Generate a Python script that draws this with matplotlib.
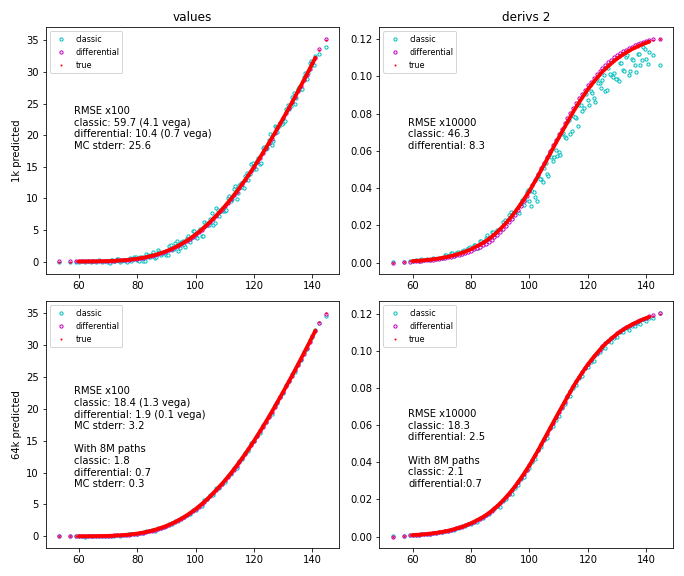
import matplotlib
matplotlib.use("Agg")
import matplotlib.pyplot as plt

# spot of each test point (x axis, shared by all panels)
spot = [53.2, 57.1, 59.0,
        60, 61, 62, 63, 64, 65, 66, 67, 68, 69,
        70, 71, 72, 73, 74, 75, 76, 77, 78, 79,
        80, 81, 82, 83, 84, 85, 86, 87, 88, 89,
        90, 91, 92, 93, 94, 95, 96, 97, 98, 99,
        100, 101, 102, 103, 104, 105, 106, 107, 108, 109,
        110, 111, 112, 113, 114, 115, 116, 117, 118, 119,
        120, 121, 122, 123, 124, 125, 126, 127, 128, 129,
        130, 131, 132, 133, 134, 135, 136, 137, 138, 139,
        140, 141, 142.4, 144.6]

# more classic 1k predictions (top row)
spot_extra = [70.5, 71.5, 72.5, 73.5, 74.5, 75.5, 76.5, 77.5, 78.5, 79.5,
              80.5, 81.5, 82.5, 83.5, 84.5, 85.5, 86.5, 87.5, 88.5, 89.5,
              90.5, 91.5, 92.5, 93.5, 94.5, 95.5, 96.5, 97.5, 98.5, 99.5,
              100.5, 101.5, 102.5, 103.5, 104.5, 105.5, 106.5, 107.5, 108.5, 109.5,
              110.5, 111.5, 112.5, 113.5, 114.5, 115.5, 116.5, 117.5, 118.5, 119.5,
              120.5, 121.5, 122.5, 123.5, 124.5, 125.5, 126.5, 127.5, 128.5, 129.5,
              130.5, 131.5, 132.5, 133.5, 134.5, 135.5, 136.5, 137.5, 138.5, 139.5,
              140.5]

# --- values ---
true_value = [0.00, 0.00, 0.01,
              0.01, 0.01, 0.01, 0.02, 0.02, 0.02, 0.03, 0.04, 0.05, 0.06,
              0.07, 0.09, 0.11, 0.14, 0.16, 0.19, 0.23, 0.28, 0.32, 0.38,
              0.44, 0.52, 0.60, 0.69, 0.79, 0.90, 1.03, 1.17, 1.32, 1.48,
              1.65, 1.84, 2.04, 2.26, 2.50, 2.76, 3.03, 3.32, 3.62, 3.95,
              4.29, 4.66, 5.04, 5.44, 5.86, 6.30, 6.77, 7.25, 7.74, 8.24,
              8.76, 9.31, 9.87, 10.46, 11.06, 11.68, 12.31, 12.96, 13.62, 14.30,
              15.00, 15.72, 16.45, 17.19, 17.94, 18.70, 19.48, 20.27, 21.07, 21.88,
              22.69, 23.52, 24.36, 25.20, 26.06, 26.93, 27.80, 28.68, 29.57, 30.46,
              31.36, 32.27, 33.55, 35.10]

classic_1k_value = [-0.10, -0.08, -0.05,
                    -0.04, 0.04, -0.12, 0.13, 0.00, 0.08, -0.09, 0.19, -0.03, 0.08,
                    -0.14, 0.27, 0.05, 0.38, -0.14, 0.28, 0.11, 0.43, 0.14, 0.65,
                    0.26, 0.64, 0.06, 1.11, 0.73, 1.14, 0.55, 1.77, 1.02, 1.54,
                    1.02, 2.38, 1.86, 2.98, 1.60, 3.03, 2.67, 3.77, 3.08, 4.76,
                    3.93, 4.90, 3.96, 6.28, 5.74, 6.78, 5.81, 8.45, 7.14, 8.36,
                    7.92, 10.03, 9.63, 11.42, 9.86, 12.04, 11.83, 13.56, 12.90, 15.38,
                    14.64, 15.96, 15.37, 18.03, 17.82, 19.18, 18.52, 21.47, 20.47, 22.00,
                    21.92, 24.18, 24.14, 26.08, 24.96, 27.26, 27.36, 29.23, 28.91, 31.45,
                    31.03, 32.49, 32.80, 33.90]

classic_1k_value_extra = [-0.16, 0.31, 0.07, 0.45, 0.03, 0.30, -0.02, 0.48, 0.32, 0.65,
                          0.12, 0.68, 0.05, 0.98, 0.67, 1.51, 0.68, 1.55, 1.40, 1.33,
                          1.03, 2.57, 1.97, 3.28, 2.18, 3.17, 2.37, 4.01, 3.70, 4.84,
                          3.76, 5.09, 4.04, 6.13, 5.72, 7.62, 6.17, 8.10, 7.99, 8.02,
                          8.08, 10.43, 9.93, 11.96, 10.77, 12.36, 11.56, 14.01, 13.84, 15.61,
                          14.64, 16.33, 15.62, 18.05, 17.96, 20.17, 19.04, 21.27, 21.48, 21.81,
                          22.23, 24.71, 24.56, 26.73, 25.95, 27.70, 27.25, 29.79, 29.91, 31.79,
                          31.16]

diff_1k_value = [0.10, 0.06, 0.08,
                 0.05, 0.04, 0.05, 0.05, 0.06, 0.06, 0.07, 0.08, 0.09, 0.10,
                 0.11, 0.13, 0.15, 0.17, 0.19, 0.22, 0.26, 0.30, 0.34, 0.40,
                 0.46, 0.53, 0.61, 0.70, 0.80, 0.91, 1.04, 1.17, 1.32, 1.48,
                 1.65, 1.83, 2.03, 2.25, 2.49, 2.75, 3.02, 3.31, 3.62, 3.95,
                 4.31, 4.66, 5.02, 5.46, 5.85, 6.32, 6.75, 7.25, 7.76, 8.22,
                 8.78, 9.30, 9.85, 10.48, 11.04, 11.70, 12.29, 12.96, 13.64, 14.28,
                 15.02, 15.70, 16.45, 17.22, 17.92, 18.72, 19.46, 20.27, 21.10, 21.86,
                 22.71, 23.50, 24.36, 25.23, 26.04, 26.95, 27.78, 28.68, 29.60, 30.44,
                 31.38, 32.25, 33.57, 35.30]

classic_64k_value = [0.00, 0.00, 0.01,
                     -0.01, 0.02, -0.03, 0.06, 0.02, 0.04, -0.01, 0.09, 0.03, 0.07,
                     0.04, 0.12, 0.10, 0.18, 0.11, 0.21, 0.21, 0.31, 0.29, 0.43,
                     0.40, 0.55, 0.47, 0.80, 0.78, 0.96, 0.91, 1.32, 1.25, 1.50,
                     1.55, 1.93, 2.01, 2.38, 2.35, 2.81, 2.97, 3.40, 3.53, 4.09,
                     4.20, 4.72, 4.77, 5.65, 5.83, 6.42, 6.53, 7.55, 7.59, 8.27,
                     8.55, 9.49, 9.81, 10.70, 10.76, 11.77, 12.19, 13.11, 13.44, 14.57,
                     14.91, 15.78, 16.18, 17.40, 17.91, 18.82, 19.24, 20.57, 20.92, 21.91,
                     22.48, 23.70, 24.30, 25.44, 25.76, 27.02, 27.68, 28.83, 29.39, 30.73,
                     31.27, 32.33, 33.40, 34.60]

diff_64k_value = [0.05, 0.03, 0.04,
                  0.03, 0.03, 0.03, 0.04, 0.04, 0.04, 0.05, 0.06, 0.07, 0.08,
                  0.09, 0.11, 0.13, 0.15, 0.17, 0.20, 0.24, 0.28, 0.33, 0.38,
                  0.44, 0.52, 0.60, 0.69, 0.79, 0.90, 1.03, 1.17, 1.32, 1.48,
                  1.65, 1.84, 2.04, 2.26, 2.50, 2.76, 3.03, 3.32, 3.62, 3.95,
                  4.29, 4.65, 5.04, 5.45, 5.86, 6.29, 6.77, 7.26, 7.74, 8.23,
                  8.76, 9.32, 9.87, 10.45, 11.06, 11.69, 12.31, 12.95, 13.62, 14.31,
                  15.00, 15.71, 16.45, 17.20, 17.94, 18.69, 19.48, 20.28, 21.07, 21.87,
                  22.69, 23.53, 24.36, 25.19, 26.06, 26.94, 27.80, 28.67, 29.57, 30.47,
                  31.36, 32.26, 33.45, 34.90]

# --- derivs 2 ---
true_deriv = [0.0000, 0.0003, 0.0006,
              .0008, .0009, .0010, .0011, .0012, .0014, .0016, .0018, .0020, .0022,
              .0025, .0028, .0031, .0035, .0039, .0043, .0048, .0053, .0059, .0065,
              .0072, .0080, .0088, .0096, .0105, .0115, .0126, .0138, .0151, .0165,
              .0180, .0196, .0213, .0231, .0250, .0270, .0292, .0314, .0337, .0361,
              .0385, .0412, .0439, .0467, .0496, .0525, .0554, .0583, .0612, .0641,
              .0670, .0698, .0726, .0754, .0782, .0810, .0835, .0860, .0884, .0907,
              .0930, .0950, .0970, .0989, .1007, .1025, .1040, .1055, .1069, .1082,
              .1095, .1106, .1117, .1127, .1136, .1145, .1153, .1160, .1167, .1174,
              .1180, .1186, .1193, .1203]

classic_1k_deriv = [.0001, .0004, .0008,
                    .0010, .0013, .0008, .0018, .0015, .0019, .0015, .0026, .0021, .0025,
                    .0024, .0040, .0035, .0049, .0035, .0052, .0050, .0064, .0059, .0080,
                    .0074, .0092, .0078, .0118, .0111, .0131, .0118, .0166, .0149, .0175,
                    .0174, .0216, .0217, .0255, .0238, .0269, .0270, .0319, .0309, .0378,
                    .0330, .0382, .0354, .0462, .0451, .0505, .0474, .0593, .0547, .0606,
                    .0595, .0688, .0676, .0754, .0692, .0785, .0775, .0845, .0814, .0912,
                    .0875, .0920, .0885, .0984, .0962, .0979, .0922, .1045, .1009, .1018,
                    .0983, .1072, .1035, .1105, .1006, .1093, .1059, .1120, .1061, .1158,
                    .1092, .1128, .1113, .1060]

classic_1k_deriv_extra = [.0025, .0043, .0037, .0053, .0042, .0055, .0048, .0068, .0067, .0083,
                          .0072, .0096, .0080, .0117, .0112, .0147, .0126, .0163, .0166, .0173,
                          .0180, .0227, .0226, .0269, .0258, .0280, .0266, .0334, .0336, .0387,
                          .0303, .0378, .0333, .0446, .0433, .0534, .0467, .0568, .0567, .0572,
                          .0576, .0694, .0668, .0768, .0706, .0781, .0734, .0848, .0830, .0907,
                          .0844, .0912, .0860, .0962, .0938, .1007, .0924, .1012, .0996, .0985,
                          .0973, .1074, .1030, .1112, .1031, .1087, .1023, .1120, .1085, .1145,
                          .1067]

diff_1k_deriv = [.0000, .0002, .0005,
                 .0007, .0008, .0009, .0010, .0011, .0013, .0014, .0016, .0018, .0020,
                 .0022, .0025, .0028, .0031, .0035, .0039, .0043, .0048, .0053, .0058,
                 .0064, .0071, .0078, .0085, .0093, .0102, .0112, .0123, .0135, .0149,
                 .0163, .0179, .0196, .0215, .0235, .0257, .0281, .0305, .0331, .0358,
                 .0386, .0415, .0445, .0475, .0506, .0537, .0568, .0599, .0630, .0660,
                 .0690, .0719, .0748, .0776, .0804, .0831, .0857, .0882, .0906, .0929,
                 .0951, .0971, .0991, .1010, .1028, .1045, .1060, .1075, .1088, .1101,
                 .1113, .1124, .1134, .1143, .1152, .1160, .1167, .1173, .1179, .1184,
                 .1189, .1194, .1198, .1203]

classic_64k_deriv = [.0001, .0003, .0006,
                     .0007, .0010, .0007, .0013, .0012, .0015, .0014, .0021, .0018, .0022,
                     .0023, .0030, .0030, .0037, .0036, .0044, .0047, .0055, .0057, .0068,
                     .0068, .0079, .0081, .0098, .0102, .0115, .0119, .0142, .0146, .0164,
                     .0162, .0193, .0201, .0231, .0228, .0264, .0277, .0310, .0320, .0362,
                     .0371, .0404, .0418, .0465, .0485, .0520, .0534, .0585, .0596, .0632,
                     .0652, .0695, .0714, .0754, .0760, .0804, .0820, .0856, .0867, .0908,
                     .0916, .0942, .0949, .0987, .0996, .1020, .1020, .1057, .1053, .1073,
                     .1077, .1103, .1105, .1127, .1114, .1139, .1138, .1156, .1150, .1175,
                     .1166, .1178, .1180, .1208]

diff_64k_deriv = [.0000, .0003, .0006,
                  .0008, .0009, .0010, .0011, .0012, .0014, .0016, .0018, .0020, .0023,
                  .0026, .0029, .0032, .0036, .0040, .0044, .0049, .0054, .0060, .0066,
                  .0073, .0081, .0089, .0097, .0106, .0116, .0127, .0139, .0152, .0166,
                  .0181, .0197, .0214, .0232, .0251, .0271, .0293, .0315, .0338, .0362,
                  .0387, .0414, .0441, .0469, .0498, .0527, .0556, .0586, .0615, .0644,
                  .0673, .0701, .0729, .0757, .0785, .0813, .0838, .0863, .0887, .0910,
                  .0933, .0953, .0973, .0992, .1010, .1028, .1043, .1058, .1072, .1085,
                  .1098, .1109, .1120, .1130, .1139, .1148, .1156, .1163, .1170, .1177,
                  .1183, .1189, .1197, .1210]

notes = {
    (0, 0): "RMSE x100\nclassic: 59.7 (4.1 vega)\ndifferential: 10.4 (0.7 vega)\nMC stderr: 25.6",
    (0, 1): "RMSE x10000\nclassic: 46.3\ndifferential: 8.3",
    (1, 0): "RMSE x100\nclassic: 18.4 (1.3 vega)\ndifferential: 1.9 (0.1 vega)\nMC stderr: 3.2"
            "\n\nWith 8M paths\nclassic: 1.8\ndifferential: 0.7\nMC stderr: 0.3",
    (1, 1): "RMSE x10000\nclassic: 18.3\ndifferential: 2.5\n\nWith 8M paths\nclassic: 2.1\ndifferential:0.7",
}
note_pos = {(0, 0): (0.095, 0.68), (0, 1): (0.098, 0.633),
            (1, 0): (0.095, 0.655), (1, 1): (0.098, 0.562)}


def draw(ax, classic, diff, true, note, pos, classic_extra=None):
    ax.plot(spot, classic, "co", ms=3.2, mfc="white", mew=1, label="classic")
    if classic_extra is not None:
        ax.plot(spot_extra, classic_extra, "co", ms=3.2, mfc="white", mew=1)
    ax.plot(spot, diff, "mo", ms=3.2, mfc="white", mew=1, label="differential")
    # dense band of true values
    ax.plot(spot[3:85], true[3:85], "-", color="red", lw=3.8, solid_capstyle="round")
    ax.plot(spot, true, "r.", ms=2, label="true")
    ax.legend(loc="upper left", fontsize=8)
    ax.text(pos[0], pos[1], note, transform=ax.transAxes, va="top", fontsize=10)


fig, axes = plt.subplots(2, 2, figsize=(9.5, 8), dpi=72)
draw(axes[0, 0], classic_1k_value, diff_1k_value, true_value, notes[0, 0], note_pos[0, 0],
     classic_1k_value_extra)
draw(axes[0, 1], classic_1k_deriv, diff_1k_deriv, true_deriv, notes[0, 1], note_pos[0, 1],
     classic_1k_deriv_extra)
draw(axes[1, 0], classic_64k_value, diff_64k_value, true_value, notes[1, 0], note_pos[1, 0])
draw(axes[1, 1], classic_64k_deriv, diff_64k_deriv, true_deriv, notes[1, 1], note_pos[1, 1])

axes[0, 0].set_title("values")
axes[0, 1].set_title("derivs 2")
axes[0, 0].set_ylabel("1k predicted")
axes[1, 0].set_ylabel("64k predicted")

fig.subplots_adjust(left=0.0668, right=0.984, top=0.9526, bottom=0.0491,
                    wspace=0.137, hspace=0.112)
fig.savefig("out.png", dpi=72)
